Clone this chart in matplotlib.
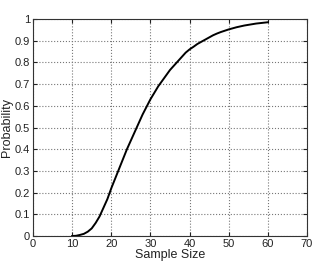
import matplotlib
matplotlib.use("Agg")
import matplotlib.pyplot as plt

sample_size = list(range(10, 61))
probability = [0.0, 0.001, 0.005, 0.01, 0.02, 0.035, 0.06, 0.09, 0.13, 0.17,
               0.22, 0.265, 0.31, 0.355, 0.40, 0.44, 0.48, 0.52, 0.56, 0.595,
               0.63, 0.66, 0.69, 0.715, 0.74, 0.765, 0.785, 0.805, 0.825, 0.845,
               0.86, 0.872, 0.885, 0.895, 0.905, 0.915, 0.925, 0.933, 0.94, 0.946,
               0.952, 0.957, 0.962, 0.966, 0.97, 0.973, 0.976, 0.979, 0.981, 0.983,
               0.985]
x_ticks = [0, 10, 20, 30, 40, 50, 60, 70]
y_ticks = [0, 0.1, 0.2, 0.3, 0.4, 0.5, 0.6, 0.7, 0.8, 0.9, 1]
y_labels = ["0", "0.1", "0.2", "0.3", "0.4", "0.5", "0.6", "0.7", "0.8", "0.9", "1"]

plt.rcParams['font.family'] = ['Liberation Sans', 'DejaVu Sans']
fig = plt.figure(figsize=(3.25, 2.63), dpi=100)
ax = fig.add_axes([33/325, 1 - 236/263, (307-33)/325, (236-19)/263])
ax.plot(sample_size, probability, color='black', linewidth=1.4)
ax.set_xlim(0, 70)
ax.set_ylim(0, 1)
ax.set_xticks(x_ticks)
ax.set_yticks(y_ticks)
ax.set_yticklabels(y_labels)
ax.grid(True, linestyle=':', color='#777777', linewidth=0.8)
ax.tick_params(direction='in', length=3, labelsize=8, pad=2, top=True, right=True,
               labeltop=False, labelright=False, colors='#222222')
for s in ax.spines.values():
    s.set_linewidth(0.8)
    s.set_color('#333333')
ax.set_xlabel("Sample Size", fontsize=9, labelpad=0, color='#222222')
ax.set_ylabel("Probability", fontsize=9, labelpad=1, color='#222222')
fig.savefig("out.png", dpi=100)
